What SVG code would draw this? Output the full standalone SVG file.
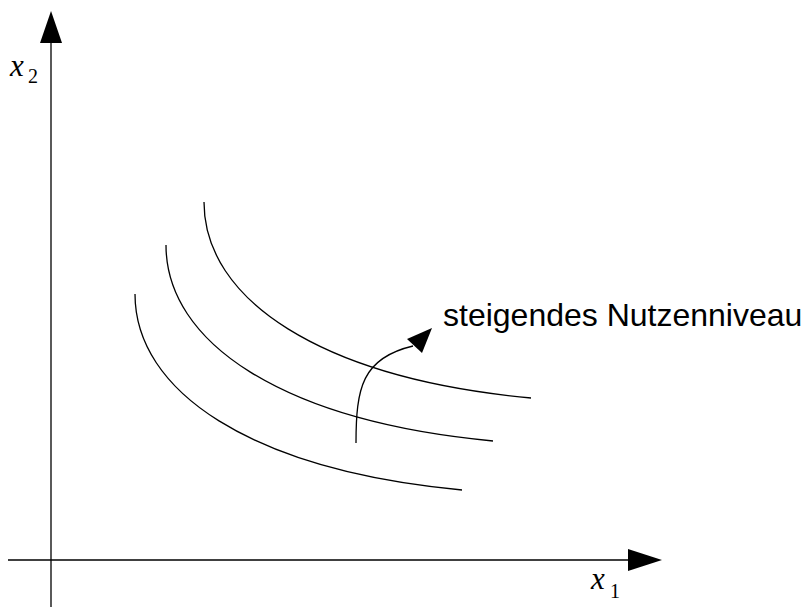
<svg xmlns="http://www.w3.org/2000/svg" xmlns:xlink="http://www.w3.org/1999/xlink" width="806" height="607" viewBox="0 0 806 607">
  <style>
    .line { fill: none; stroke: #000; stroke-width: 1.3; }
    .head { fill: #000; stroke: none; }
    .var { font-family: "Liberation Serif", "Times New Roman", serif; font-style: italic; font-size: 31px; fill: #000; }
    .sub { font-family: "Liberation Serif", "Times New Roman", serif; font-size: 20px; fill: #000; }
    .label { font-family: "Liberation Sans", Arial, sans-serif; font-size: 32px; fill: #000; }
  </style>
  <defs>
    <!-- one indifference curve, drawn from its upper end at the origin -->
    <path id="curve" class="line" d="M0,0 C0,97 115,176 327,196"/>
  </defs>
  <rect width="806" height="607" fill="#fff"/>

  <g id="axes">
    <line class="line" x1="51" y1="42" x2="51" y2="607"/>
    <polygon class="head" points="51,11 40,43 62,43"/>
    <line class="line" x1="8" y1="560" x2="630" y2="560"/>
    <polygon class="head" points="662,560 628,549 628,571"/>
  </g>

  <g id="label-x2">
    <text class="var" x="10" y="76">x</text>
    <text class="sub" x="28" y="83">2</text>
  </g>
  <g id="label-x1">
    <text class="var" x="591" y="589">x</text>
    <text class="sub" x="610" y="598">1</text>
  </g>

  <g id="curve-low"><use xlink:href="#curve" x="135" y="294"/></g>
  <g id="curve-mid"><use xlink:href="#curve" x="166" y="245"/></g>
  <g id="curve-high"><use xlink:href="#curve" x="204" y="202"/></g>

  <g id="connectors">
    <path class="line" d="M356,443 C356,388 362,358 413,346"/>
    <polygon class="head" points="432,328 407,339 422,353"/>
  </g>

  <g id="label-level">
    <text class="label" x="443" y="326">steigendes Nutzenniveau</text>
  </g>
</svg>
